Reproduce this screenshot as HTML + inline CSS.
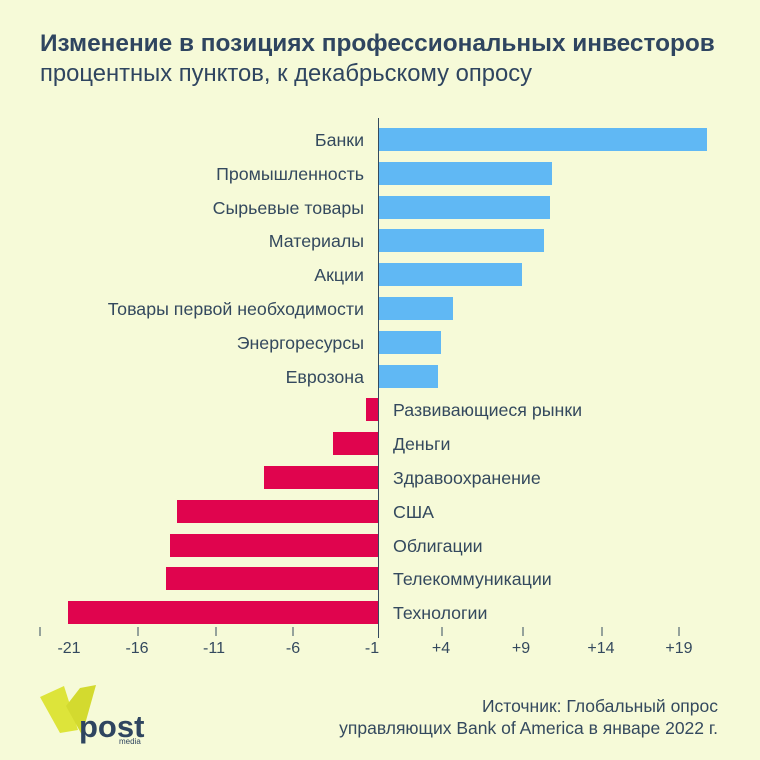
<!DOCTYPE html><html><head><meta charset="utf-8"><style>
body{margin:0;width:760px;height:760px;background:#f6fad8;font-family:"Liberation Sans",sans-serif;color:#34495e;position:relative;overflow:hidden}
.t{position:absolute;white-space:nowrap}
.b{position:absolute;height:23px}
.l{position:absolute;font-size:17.8px;white-space:nowrap;line-height:20px}
</style></head><body>
<div class="t" style="left:40px;top:30px;font-size:24.4px;font-weight:bold;color:#2f4560">Изменение в позициях профессиональных инвесторов</div>
<div class="t" style="left:40px;top:60px;font-size:23.8px;color:#2f4560">процентных пунктов, к декабрьскому опросу</div>
<div style="position:absolute;left:378px;top:118px;width:1px;height:520px;background:#34495e"></div>
<div id="c"></div>
<svg style="position:absolute;left:0;top:0" width="760" height="760">
<g stroke="#34495e" stroke-width="1">
<line x1="40" y1="627" x2="40" y2="636"/><line x1="138" y1="627" x2="138" y2="636"/><line x1="216" y1="627" x2="216" y2="636"/><line x1="293" y1="627" x2="293" y2="636"/><line x1="442" y1="627" x2="442" y2="636"/><line x1="523" y1="627" x2="523" y2="636"/><line x1="602" y1="627" x2="602" y2="636"/><line x1="679" y1="627" x2="679" y2="636"/>
</g>
<g font-family="Liberation Sans" font-size="16" fill="#34495e" text-anchor="middle">
<text x="69" y="653">-21</text><text x="137" y="653">-16</text><text x="214" y="653">-11</text><text x="293" y="653">-6</text><text x="372" y="653">-1</text><text x="441" y="653">+4</text><text x="521" y="653">+9</text><text x="601" y="653">+14</text><text x="679" y="653">+19</text>
</g>
<polygon points="40,697 64,686 78,730 60,733" fill="#dde43a"/>
<polygon points="66,706 80,688 96,685 82,735" fill="#d3da2f"/>
<text x="79" y="737" font-family="Liberation Sans" font-size="31" font-weight="bold" fill="#2f4560">post</text>
<text x="119" y="744" font-family="Liberation Sans" font-size="8" fill="#2f4560">media</text>
<g font-family="Liberation Sans" font-size="17.5" fill="#34495e" text-anchor="end">
<text x="718" y="712">Источник: Глобальный опрос</text>
<text x="718" y="734">управляющих Bank of America в январе 2022 г.</text>
</g>
</svg>
<script>
var d=[["Банки",707],["Промышленность",552],["Сырьевые товары",550],["Материалы",544],["Акции",522],["Товары первой необходимости",453],["Энергоресурсы",441],["Еврозона",438],["Развивающиеся рынки",366],["Деньги",333],["Здравоохранение",264],["США",177],["Облигации",170],["Телекоммуникации",166],["Технологии",68]];
var h="";d.forEach(function(r,i){var y=128+i*33.8;var e=r[1];
if(e>379){h+='<div class="b" style="left:379px;width:'+(e-379)+'px;top:'+y+'px;background:#60b8f4"></div><div class="l" style="right:396px;top:'+(y+2)+'px">'+r[0]+'</div>';}
else{h+='<div class="b" style="left:'+e+'px;width:'+(378-e)+'px;top:'+y+'px;background:#e0044e"></div><div class="l" style="left:393px;top:'+(y+2)+'px">'+r[0]+'</div>';}});
document.getElementById("c").innerHTML=h;
</script>
</body></html>
